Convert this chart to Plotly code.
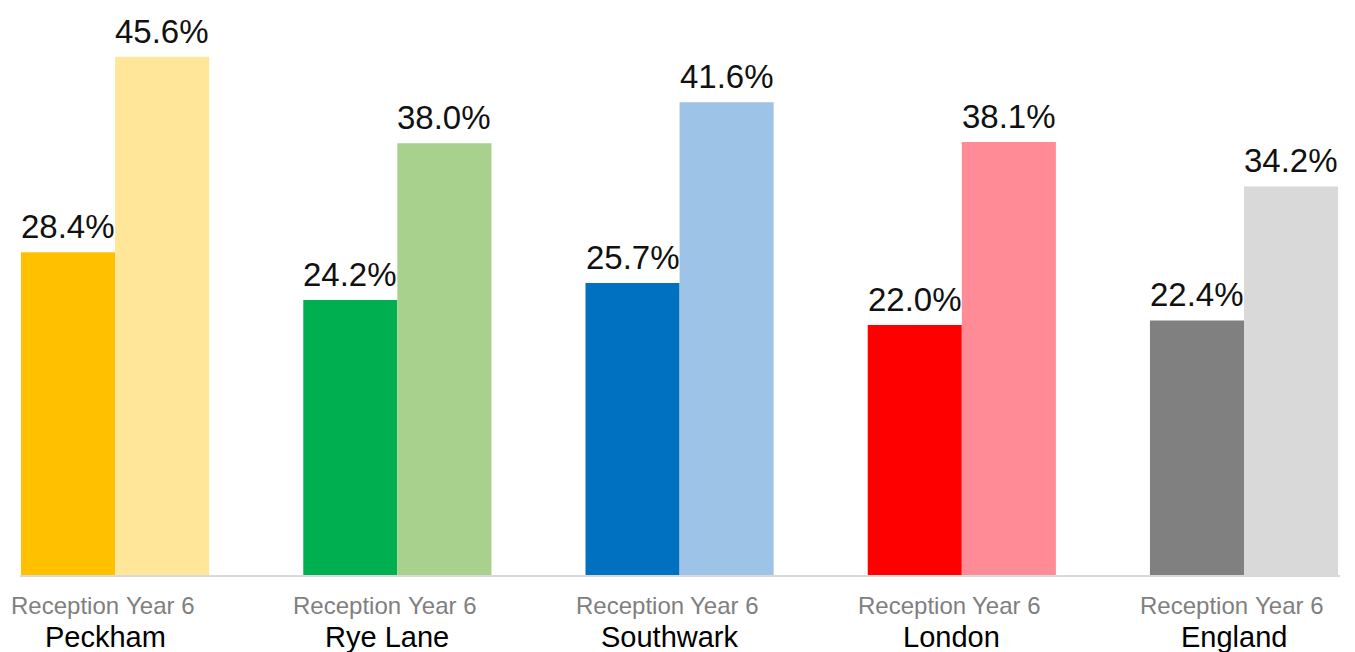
import plotly.graph_objects as go

groups = ["Peckham", "Rye Lane", "Southwark", "London", "England"]
reception = [28.4, 24.2, 25.7, 22.0, 22.4]
year6 = [45.6, 38.0, 41.6, 38.1, 34.2]
sub_labels = ["Reception", "Year 6"]
reception_colors = ["#FFC000", "#00B050", "#0070C0", "#FF0000", "#808080"]
year6_colors = ["#FFE699", "#A9D18E", "#9DC3E6", "#FF8B96", "#D9D9D9"]

FONT = "Liberation Sans, Arial, sans-serif"

fig = go.Figure()
annotations = []
for name, vals, cols, shift in [("Reception", reception, reception_colors, -47),
                                ("Year 6", year6, year6_colors, 47)]:
    fig.add_trace(go.Bar(
        x=groups, y=vals, name=name,
        marker=dict(color=cols, line=dict(width=0)),
        hoverinfo="x+y",
    ))
    for g, v in zip(groups, vals):
        annotations.append(dict(
            x=g, xref="x", y=v, yref="y", xshift=shift, yshift=5,
            yanchor="bottom", xanchor="center", showarrow=False,
            text=f"{v:.1f}%", font=dict(family=FONT, size=33, color="#111111"),
        ))

for g in groups:
    for lab, shift in zip(sub_labels, [-50, 45]):
        annotations.append(dict(
            x=g, xref="x", y=0, yref="paper", xshift=shift, yshift=-15,
            yanchor="top", xanchor="center", showarrow=False,
            text=lab, font=dict(family=FONT, size=24, color="#7f7f7f"),
        ))
    annotations.append(dict(
        x=g, xref="x", y=0, yref="paper", xshift=-10, yshift=-44,
        yanchor="top", xanchor="center", showarrow=False,
        text=g, font=dict(family=FONT, size=29, color="#000000"),
    ))

# page body has an 8px margin, so the figure is sized/offset to compensate
fig.update_layout(
    width=1347, height=644,
    margin=dict(l=12, r=15, t=0, b=77),
    barmode="group", bargap=1/3, bargroupgap=0,
    plot_bgcolor="white", paper_bgcolor="white",
    showlegend=False,
    annotations=annotations,
    xaxis=dict(range=[-0.337, 4.34], showline=True, linecolor="#d9d9d9", linewidth=2,
               showticklabels=False, ticks="", showgrid=False, zeroline=False),
    yaxis=dict(range=[0, 49.9], visible=False, showgrid=False, zeroline=False),
)

fig.write_html("out.html")
